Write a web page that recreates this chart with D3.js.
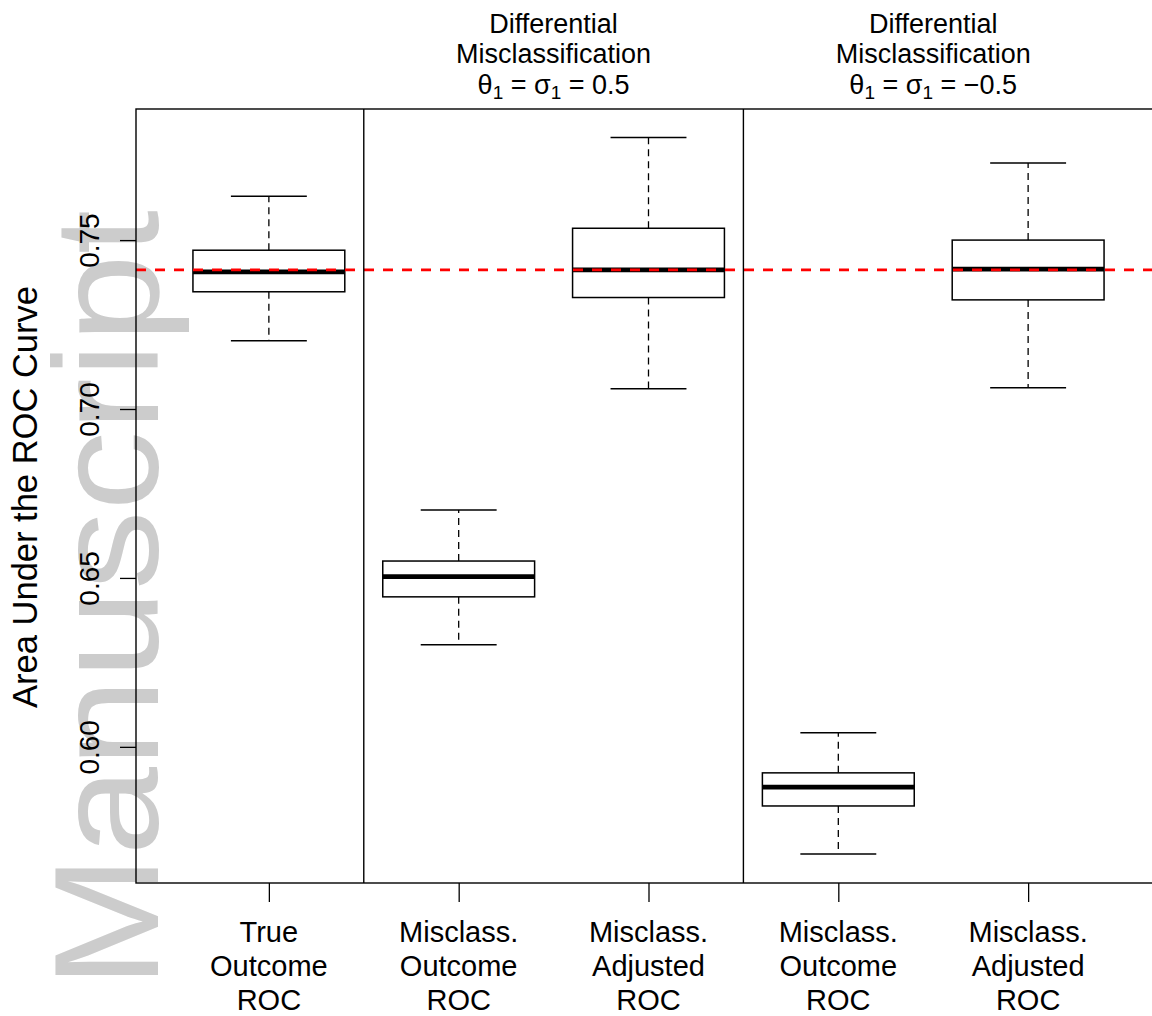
<!DOCTYPE html>
<html>
<head>
<meta charset="utf-8">
<script src="https://cdn.jsdelivr.net/npm/d3@7"></script>
<style>
  html, body { margin: 0; padding: 0; background: #fff; }
  svg { display: block; font-family: "Liberation Sans", Arial, Helvetica, sans-serif; }
</style>
</head>
<body>
<svg id="chart" width="1152" height="1016"></svg>
<script>
// ---- data ----
const categories = [
  ["True", "Outcome", "ROC"],
  ["Misclass.", "Outcome", "ROC"],
  ["Misclass.", "Adjusted", "ROC"],
  ["Misclass.", "Outcome", "ROC"],
  ["Misclass.", "Adjusted", "ROC"]
];
const whiskerLow  = [0.7202, 0.6302, 0.7060, 0.5683, 0.7063];
const q1          = [0.7347, 0.6444, 0.7330, 0.5825, 0.7323];
const medians     = [0.7406, 0.6504, 0.7412, 0.5881, 0.7414];
const q3          = [0.7470, 0.6550, 0.7535, 0.5923, 0.7500];
const whiskerHigh = [0.7630, 0.6701, 0.7804, 0.6042, 0.7728];
const trueAUC = 0.7412;
const yTicks = [0.60, 0.65, 0.70, 0.75];
const yTickLabels = ["0.60", "0.65", "0.70", "0.75"];
const dividers = [1.5, 3.5];
const panelTitles = [
  { at: 2.5, sign: "" },
  { at: 4.5, sign: "\u2212" }
];

// ---- layout ----
const svg = d3.select("#chart");
const pLeft = 136, pRight = 1161, pTop = 109, pBottom = 883;
const x = d3.scaleLinear().domain([0.3, 5.7]).range([pLeft, pRight]);
const y = d3.scaleLinear().domain([0.5597, 0.7888]).range([pBottom, pTop]);
const unit = x(2) - x(1);
const boxW = 0.8 * unit, capW = 0.4 * unit;

// watermark
svg.append("text")
  .attr("transform", `translate(158,988) rotate(-90)`)
  .attr("font-size", 149)
  .attr("fill", "#cccccc")
  .attr("textLength", 778)
  .attr("lengthAdjust", "spacingAndGlyphs")
  .text("Manuscript");

// y axis label
svg.append("text")
  .attr("transform", `translate(37,${(pTop + pBottom) / 2 + 1}) rotate(-90)`)
  .attr("text-anchor", "middle")
  .attr("font-size", 34.5)
  .attr("fill", "#000")
  .text("Area Under the ROC Curve");

// y axis ticks
const yAxis = d3.axisLeft(y).tickValues(yTicks).tickSize(16)
  .tickFormat((d, i) => yTickLabels[i]);
const gy = svg.append("g").attr("transform", `translate(${pLeft},0)`).call(yAxis);
gy.select(".domain").remove();
gy.selectAll(".tick line").attr("stroke", "#000").attr("stroke-width", 1.3);
gy.selectAll(".tick text")
  .attr("font-size", 28)
  .attr("fill", "#000")
  .attr("x", null).attr("dy", null)
  .attr("text-anchor", "middle")
  .attr("transform", "translate(-37,0) rotate(-90)");

// x axis ticks + labels
const idx = d3.range(1, 6);
const xAxis = d3.axisBottom(x).tickValues(idx).tickSize(19).tickFormat("");
const gx = svg.append("g").attr("transform", `translate(0,${pBottom})`).call(xAxis);
gx.select(".domain").remove();
gx.selectAll(".tick line").attr("stroke", "#000").attr("stroke-width", 1.3);

const xl = svg.append("g");
categories.forEach((lines, i) => {
  const t = xl.append("text")
    .attr("x", x(i + 1))
    .attr("y", 942)
    .attr("text-anchor", "middle")
    .attr("font-size", 29)
    .attr("fill", "#000");
  lines.forEach((s, j) => {
    t.append("tspan").attr("x", x(i + 1)).attr("dy", j === 0 ? 0 : 34).text(s);
  });
});

// boxes
const boxes = svg.append("g");
idx.forEach((k, i) => {
  const cx = x(k);
  const dash = "7,5";
  boxes.append("line").attr("x1", cx).attr("x2", cx)
    .attr("y1", y(q3[i])).attr("y2", y(whiskerHigh[i]))
    .attr("stroke", "#000").attr("stroke-width", 1.3).attr("stroke-dasharray", dash);
  boxes.append("line").attr("x1", cx).attr("x2", cx)
    .attr("y1", y(q1[i])).attr("y2", y(whiskerLow[i]))
    .attr("stroke", "#000").attr("stroke-width", 1.3).attr("stroke-dasharray", dash);
  [whiskerHigh[i], whiskerLow[i]].forEach(v => {
    boxes.append("line").attr("x1", cx - capW / 2).attr("x2", cx + capW / 2)
      .attr("y1", y(v)).attr("y2", y(v))
      .attr("stroke", "#000").attr("stroke-width", 1.5);
  });
  boxes.append("rect")
    .attr("x", cx - boxW / 2).attr("width", boxW)
    .attr("y", y(q3[i])).attr("height", y(q1[i]) - y(q3[i]))
    .attr("fill", "#fff").attr("stroke", "#000").attr("stroke-width", 1.5);
  boxes.append("line").attr("x1", cx - boxW / 2).attr("x2", cx + boxW / 2)
    .attr("y1", y(medians[i])).attr("y2", y(medians[i]))
    .attr("stroke", "#000").attr("stroke-width", 4.8);
});

// reference line
svg.append("line")
  .attr("x1", pLeft).attr("x2", 1152)
  .attr("y1", y(trueAUC)).attr("y2", y(trueAUC))
  .attr("stroke", "#ff0000").attr("stroke-width", 2.8)
  .attr("stroke-dasharray", "10,9");

// frame and dividers
svg.append("rect")
  .attr("x", pLeft).attr("y", pTop)
  .attr("width", pRight - pLeft).attr("height", pBottom - pTop)
  .attr("fill", "none").attr("stroke", "#000").attr("stroke-width", 1.4);
dividers.forEach(d => {
  svg.append("line").attr("x1", x(d)).attr("x2", x(d))
    .attr("y1", pTop).attr("y2", pBottom)
    .attr("stroke", "#000").attr("stroke-width", 1.4);
});

// panel titles
panelTitles.forEach(p => {
  const cx = x(p.at);
  const g = svg.append("g").attr("fill", "#000").attr("font-size", 27).attr("text-anchor", "middle");
  g.append("text").attr("x", cx).attr("y", 33).text("Differential");
  g.append("text").attr("x", cx).attr("y", 63.3).text("Misclassification");
  const t = g.append("text").attr("x", cx).attr("y", 94);
  t.append("tspan").text("\u03B8");
  t.append("tspan").attr("font-size", 19).attr("dy", 5).text("1");
  t.append("tspan").attr("dy", -5).text(" = \u03C3");
  t.append("tspan").attr("font-size", 19).attr("dy", 5).text("1");
  t.append("tspan").attr("dy", -5).text(" = " + p.sign + "0.5");
});
</script>
</body>
</html>
